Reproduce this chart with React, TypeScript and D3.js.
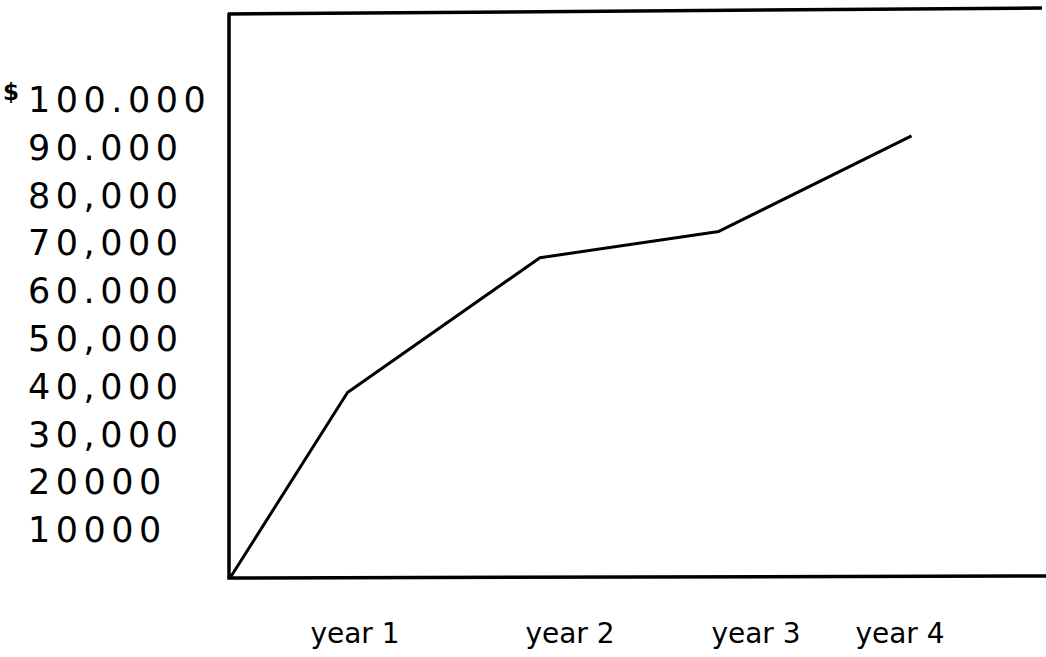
import React from "react";
import * as d3 from "d3";

// ---- data ----
const yearTicks = [1, 2, 3, 4];
const yearLabels = ["year 1", "year 2", "year 3", "year 4"];
// x position of each drawn vertex, in "years" along the hand-drawn axis
const seriesX = [0, 0.94, 1.86, 2.8, 4.08];
// value of each vertex, in dollars
const seriesValues = [0, 38800, 67000, 72500, 92500];
const yTickValues = [10000, 20000, 30000, 40000, 50000, 60000, 70000, 80000, 90000, 100000];
const yTickLabels = ["10000", "20000", "30,000", "40,000", "50,000", "60.000", "70,000", "80,000", "90.000", "100.000"];

const W = 1046;
const H = 657;
const frameLeft = 229;
const frameRight = 1042;

export default function App() {
  const x = d3.scaleLinear().domain([0, 1, 2, 3, 4]).range([230, 355, 570, 756, 900]);
  const y = d3.scaleLinear().domain([0, 100000]).range([578, 100]);

  const pts: [number, number][] = seriesX.map((sx, i) => [x(sx), y(seriesValues[i])]);
  const line = d3.line<[number, number]>().x((d) => d[0]).y((d) => d[1]);

  const top = 13;
  const bottom = y(0);

  return (
    <svg
      width={W}
      height={H}
      viewBox={`0 0 ${W} ${H}`}
      style={{ position: "absolute", left: 0, top: 0, background: "#fff" }}
    >
      <rect x={0} y={0} width={W} height={H} fill="#fff" />
      {/* frame */}
      <path
        d={`M${frameLeft},${top} L${frameLeft},${bottom} L${W},${bottom - 2}`}
        fill="none"
        stroke="#000"
        strokeWidth={3.5}
      />
      <path
        d={`M${frameLeft - 1},${top + 1} L${frameRight},${top - 5}`}
        fill="none"
        stroke="#000"
        strokeWidth={3.5}
      />
      {/* data line */}
      <path d={line(pts) || ""} fill="none" stroke="#000" strokeWidth={3} strokeLinejoin="round" />

      {/* y labels */}
      <g fontFamily="'DejaVu Sans', sans-serif" fontSize={35} fill="#000">
        {yTickValues.map((v, i) => (
          <text key={v} x={28} y={y(v)} dominantBaseline="central" letterSpacing={5.5}>
            {yTickLabels[i]}
          </text>
        ))}
        <text x={3} y={y(100000)} fontSize={23} fontWeight="bold">
          $
        </text>
      </g>

      {/* x labels */}
      <g fontFamily="'DejaVu Sans', sans-serif" fontSize={28} fill="#000">
        {yearTicks.map((t, i) => (
          <text key={t} x={x(t)} y={643} textAnchor="middle">
            {yearLabels[i]}
          </text>
        ))}
      </g>
    </svg>
  );
}
